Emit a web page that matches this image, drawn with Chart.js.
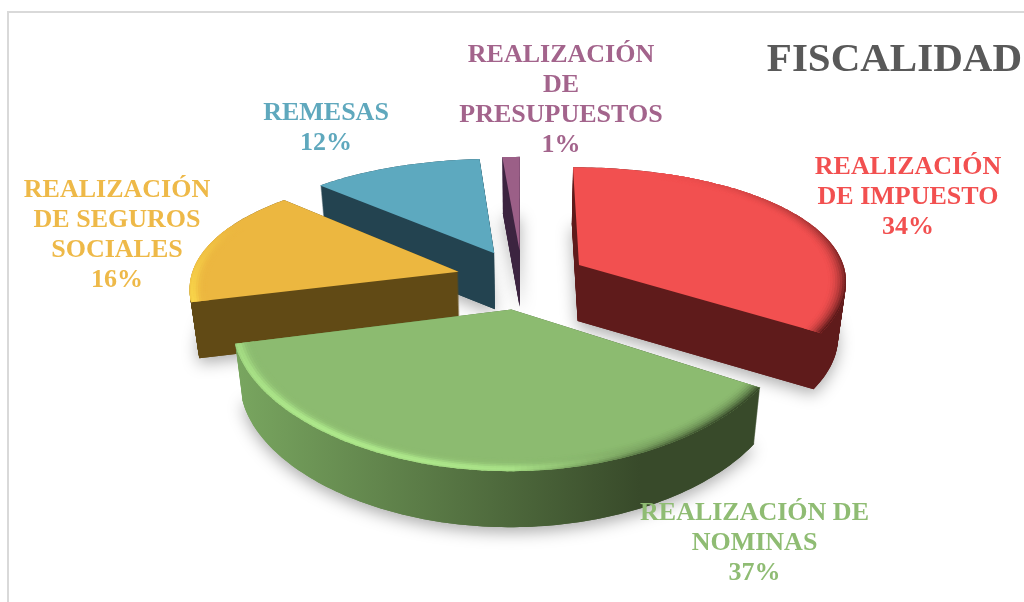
<!DOCTYPE html>
<html lang="es">
<head>
<meta charset="utf-8">
<title>FISCALIDAD</title>
<script src="https://cdn.jsdelivr.net/npm/chart.js@4"></script>
<style>
html,body{margin:0;padding:0;background:#fff;overflow:hidden}
#frame{position:absolute;left:7px;top:11px;width:1100px;height:700px;border-left:2px solid #d9d9d9;border-top:2px solid #d9d9d9}
canvas{position:absolute;left:0;top:0}
</style>
</head>
<body>
<div id="frame"></div>
<canvas id="c" width="1024" height="602"></canvas>
<script>
const chartTitle = "FISCALIDAD";
const categories = ["REALIZACIÓN DE IMPUESTO","REALIZACIÓN DE NOMINAS","REALIZACIÓN DE SEGUROS SOCIALES","REMESAS","REALIZACIÓN DE PRESUPUESTOS"];
const shares = [34,37,16,11.8,1.2];
const labelLines = [["REALIZACIÓN","DE IMPUESTO"],["REALIZACIÓN DE","NOMINAS"],["REALIZACIÓN","DE SEGUROS","SOCIALES"],["REMESAS"],["REALIZACIÓN","DE","PRESUPUESTOS"]];
const faceColors = ["#f25050","#8cbb70","#ecb740","#5da9bf","#9b5f87"];
const textColors = ["#f25050","#8fbc73","#eeb948","#5fa8bd","#a3648c"];
const wallColors = [["#5f1b1b","#5f1b1b"],["#78a55f","#384a2a"],["#614a15","#614a15"],["#234350","#234350"],["#3c2440","#3c2440"]];

// layout of the text (not data)
const labelAnchors = [[908,174],[754.5,520],[117,197],[326,120],[561,62]];

// view used to tilt the flat pie
const view = {cx:522, cy:279, A:268, B:120, p:0.18, px:0.12, D:56, shrink:0.975};

function project(u,v,depth){
  let x = view.cx + view.A*u/(1 - view.px*v);
  let y = view.cy + view.B*v/(1 - view.p*v);
  if(depth){ x = view.cx + (x-view.cx)*(1-(1-view.shrink)*depth); y += view.D*depth; }
  return [x,y];
}
function rgb(h){return [1,3,5].map(i=>parseInt(h.substr(i,2),16));}
function hex(c){return "#"+c.map(v=>Math.min(255,Math.round(v)).toString(16).padStart(2,"0")).join("");}
function mix(h,t,a){const c=rgb(h),d=rgb(t);return hex(c.map((v,i)=>v+(d[i]-v)*a));}

const tilted = {
  id:"tilted",
  beforeDatasetsDraw(chart){
    const ctx = chart.ctx, meta = chart.getDatasetMeta(0);
    const items = meta.data.map((arc,i)=>{
      const p = arc.getProps(["startAngle","endAngle","outerRadius"],true);
      const R = p.outerRadius, mid=(p.startAngle+p.endAngle)/2, off=arc.options.offset/R;
      return {i,R,s:p.startAngle,e:p.endAngle,ox:Math.cos(mid)*off,oy:Math.sin(mid)*off,mv:Math.sin(mid)};
    }).sort((a,b)=>a.mv-b.mv);
    for(const it of items){
      const pts=[], n=Math.max(4,Math.ceil((it.e-it.s)/0.02));
      const at=(a,r)=>[it.ox+Math.cos(a)*r,it.oy+Math.sin(a)*r];
      pts.push([it.ox,it.oy]);
      for(let k=0;k<=n;k++) pts.push(at(it.s+(it.e-it.s)*k/n,1));
      const path=(d)=>{ctx.beginPath();pts.forEach((q,j)=>{const s=project(q[0],q[1],d);j?ctx.lineTo(s[0],s[1]):ctx.moveTo(s[0],s[1]);});ctx.closePath();};
      const g=ctx.createLinearGradient(240,0,640,0);
      g.addColorStop(0,wallColors[it.i][0]);g.addColorStop(1,wallColors[it.i][1]);
      ctx.save();
      ctx.lineJoin="round";
      ctx.shadowColor="rgba(0,0,0,0.33)";ctx.shadowBlur=16;ctx.shadowOffsetY=5;
      ctx.fillStyle=g;path(1);ctx.fill();
      ctx.shadowColor="transparent";ctx.shadowBlur=0;ctx.shadowOffsetY=0;
      for(let l=view.D;l>=0;l--){path(l/view.D);ctx.fill();}
      ctx.restore();
      ctx.save();
      path(0);
      ctx.fillStyle=faceColors[it.i];ctx.fill();
      ctx.clip();
      const bands=8,width=0.07,base=faceColors[it.i];
      const tint=hex(rgb(base).map(v=>v*1.25));
      ctx.lineCap="round";ctx.lineWidth=2.6;
      for(let b=0;b<bands;b++){
        const t=(b+1)/bands, r=1-width*(1-t);
        for(let k=0;k<n;k++){
          const a0=it.s+(it.e-it.s)*k/n,a1=it.s+(it.e-it.s)*(k+1)/n,am=(a0+a1)/2;
          const u=Math.cos(am),v=Math.sin(am);
          const light=Math.max(0,-0.5*u+0.85*v-0.1),dark=1.6*Math.max(0,u)*(0.5+0.5*v);
          const bump=Math.exp(-Math.pow((t-0.85)/0.3,2));
          if(light<0.02&&dark<0.02) continue;
          let col=mix(base,tint,Math.min(1,light*1.1*bump));
          col=mix(col,wallColors[it.i][1],Math.min(1,dark*t*t));
          const q0=at(a0,r),q1=at(a1,r),s0=project(q0[0],q0[1],0),s1=project(q1[0],q1[1],0);
          ctx.strokeStyle=col;ctx.beginPath();ctx.moveTo(s0[0],s0[1]);ctx.lineTo(s1[0],s1[1]);ctx.stroke();
        }
      }
      ctx.restore();
    }
    return false;
  },
  afterDraw(chart){
    const ctx=chart.ctx;
    ctx.save();
    ctx.textBaseline="alphabetic";
    ctx.textAlign="right";
    ctx.font="bold 41px 'Liberation Serif'";
    ctx.fillStyle="#595959";
    ctx.fillText(chartTitle,1022,71);
    ctx.textAlign="center";
    ctx.font="bold 26px 'Liberation Serif'";
    labelLines.forEach((lines,i)=>{
      ctx.fillStyle=textColors[i];
      const [x,y]=labelAnchors[i];
      lines.concat(Math.round(shares[i])+"%").forEach((s,j)=>ctx.fillText(s,x,y+j*30));
    });
    ctx.restore();
  }
};

new Chart(document.getElementById("c"),{
  type:"pie",
  data:{labels:categories,datasets:[{data:shares,backgroundColor:faceColors,borderWidth:0,offset:66}]},
  options:{
    responsive:false,animation:false,
    events:[],
    layout:{padding:0},
    plugins:{legend:{display:false},tooltip:{enabled:false},title:{display:false}}
  },
  plugins:[tilted]
});
</script>
</body>
</html>
